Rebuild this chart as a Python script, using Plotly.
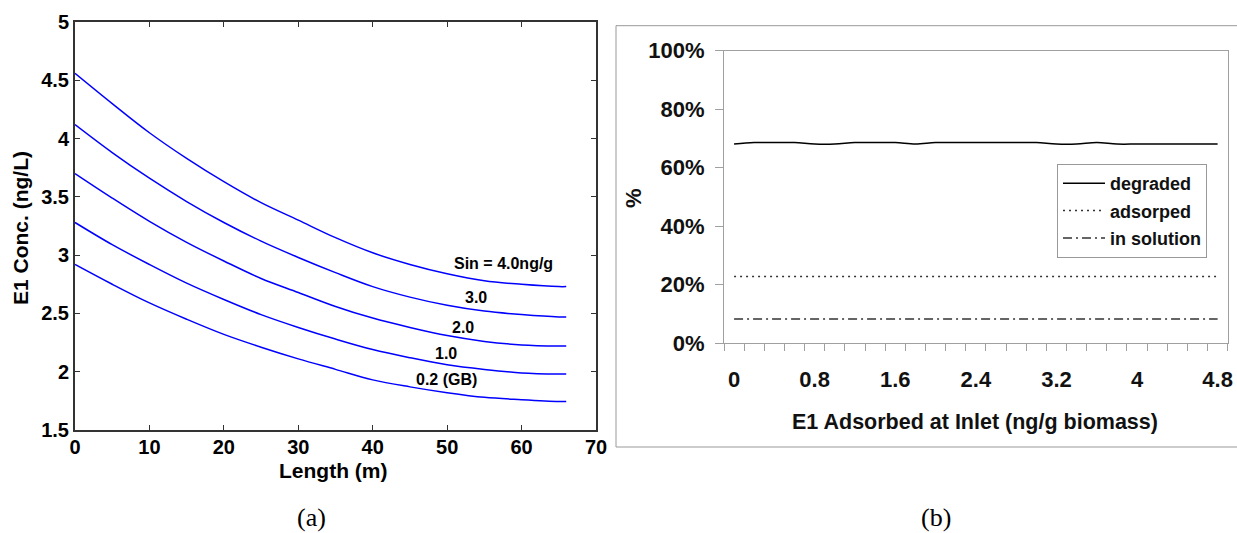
import plotly.graph_objects as go

W, H = 1237, 533

# ---------------- Panel (a) data ----------------
length_m = [0, 5, 10, 15, 20, 25, 30, 35, 40, 45, 50, 55, 60, 65, 66]
conc_s40 = [4.56, 4.30, 4.05, 3.83, 3.63, 3.45, 3.30, 3.15, 3.02, 2.92, 2.84, 2.78, 2.75, 2.73, 2.73]
conc_s30 = [4.12, 3.88, 3.66, 3.46, 3.28, 3.12, 2.98, 2.85, 2.73, 2.64, 2.57, 2.52, 2.49, 2.47, 2.47]
conc_s20 = [3.70, 3.49, 3.29, 3.11, 2.95, 2.80, 2.68, 2.56, 2.46, 2.38, 2.31, 2.26, 2.23, 2.22, 2.22]
conc_s10 = [3.28, 3.09, 2.92, 2.76, 2.62, 2.49, 2.38, 2.28, 2.19, 2.12, 2.06, 2.02, 1.99, 1.98, 1.98]
conc_s02 = [2.92, 2.75, 2.59, 2.45, 2.32, 2.21, 2.11, 2.02, 1.93, 1.87, 1.82, 1.78, 1.76, 1.745, 1.745]
curve_labels = ["Sin = 4.0ng/g", "3.0", "2.0", "1.0", "0.2 (GB)"]
label_x = [57.6, 53.9, 52.1, 49.9, 49.9]
label_y = [2.93, 2.64, 2.38, 2.155, 1.93]

# ---------------- Panel (b) data ----------------
adsorbed_inlet = [0, 0.2, 0.4, 0.6, 0.8, 1.0, 1.2, 1.4, 1.6, 1.8, 2.0, 2.2, 2.4,
                  2.6, 2.8, 3.0, 3.2, 3.4, 3.6, 3.8, 4.0, 4.2, 4.4, 4.6, 4.8]
degraded = [68.1, 68.6, 68.6, 68.6, 68.1, 68.1, 68.6, 68.6, 68.6, 68.1, 68.6, 68.6, 68.6,
            68.6, 68.6, 68.6, 68.1, 68.1, 68.6, 68.1, 68.1, 68.1, 68.1, 68.1, 68.1]
adsorped = [22.8] * 25
in_solution = [8.3] * 25
xb_tickvals = [0, 0.8, 1.6, 2.4, 3.2, 4.0, 4.8]
xb_ticktext = ["0", "0.8", "1.6", "2.4", "3.2", "4", "4.8"]
yb_tickvals = [0, 20, 40, 60, 80, 100]
yb_ticktext = ["0%", "20%", "40%", "60%", "80%", "100%"]


def px(x):
    return x / W


def py(y):
    return 1 - y / H


SANS = "Liberation Sans, Arial, sans-serif"
SERIF = "Liberation Serif, Times New Roman, serif"

fig = go.Figure()

for ys in [conc_s40, conc_s30, conc_s20, conc_s10, conc_s02]:
    fig.add_trace(go.Scatter(x=length_m, y=ys, mode="lines",
                             line=dict(color="#0000ff", width=1.5, shape="spline", smoothing=1),
                             showlegend=False, xaxis="x", yaxis="y"))

fig.add_trace(go.Scatter(x=adsorbed_inlet, y=degraded, mode="lines", name="degraded",
                         line=dict(color="#000000", width=1.5, shape="spline", smoothing=1),
                         xaxis="x2", yaxis="y2", legendgroup="a"))
fig.add_trace(go.Scatter(x=adsorbed_inlet, y=adsorped, mode="lines", name="adsorped",
                         line=dict(color="#333333", width=1.5, dash="2px,4px"),
                         xaxis="x2", yaxis="y2", legendgroup="b"))
fig.add_trace(go.Scatter(x=adsorbed_inlet, y=in_solution, mode="lines", name="in solution",
                         line=dict(color="#333333", width=1.5, dash="9px,4px,2px,4px"),
                         xaxis="x2", yaxis="y2", legendgroup="c"))

annotations = []
for t, lx, ly in zip(curve_labels, label_x, label_y):
    annotations.append(dict(x=lx, y=ly, xref="x", yref="y", text=t, showarrow=False,
                            xanchor="center", yanchor="middle",
                            font=dict(family=SANS, size=16, color="#000", weight="bold")))


def paper_text(x, y, text, size, family=SANS, angle=0, bold=True, color="#000"):
    f = dict(family=family, size=size, color=color)
    if bold:
        f["weight"] = "bold"
    return dict(x=px(x), y=py(y), xref="paper", yref="paper", text=text, textangle=angle,
                xanchor="center", yanchor="middle", showarrow=False, font=f)


annotations += [
    paper_text(20, 228, "E1 Conc. (ng/L)", 21, angle=-90),
    paper_text(333, 470, "Length (m)", 21),
    paper_text(633, 198, "%", 22, angle=-90, color="#111"),
    paper_text(975, 422, "E1 Adsorbed at Inlet (ng/g biomass)", 21.5, color="#111"),
    paper_text(311, 517, "(a)", 26, family=SERIF, bold=False),
    paper_text(936, 517, "(b)", 26, family=SERIF, bold=False),
]

shapes = [
    dict(type="line", xref="paper", yref="paper", x0=px(616), x1=px(616), y0=py(25.7), y1=py(447), line=dict(color="#999999", width=1)),
    dict(type="line", xref="paper", yref="paper", x0=px(616), x1=1.01, y0=py(25.7), y1=py(25.7), line=dict(color="#999999", width=1)),
    dict(type="line", xref="paper", yref="paper", x0=px(616), x1=1.01, y0=py(447), y1=py(447), line=dict(color="#999999", width=1)),
]

fig.update_layout(
    width=W, height=H,
    margin=dict(l=0, r=0, t=0, b=0, autoexpand=False),
    paper_bgcolor="white", plot_bgcolor="white",
    showlegend=True,
    legend=dict(x=px(1057), y=py(164), xanchor="left", yanchor="top",
                bordercolor="#999999", borderwidth=1, bgcolor="white",
                font=dict(family=SANS, size=18, color="#111", weight="bold"),
                tracegroupgap=1, traceorder="grouped", itemwidth=42),
    xaxis=dict(domain=[px(75), px(596)], range=[0, 70], tickvals=list(range(0, 71, 10)),
               ticks="inside", ticklen=5, tickcolor="#333333", mirror="ticks", showline=True,
               linecolor="#333333", linewidth=2, showgrid=False, zeroline=False, automargin=False,
               ticklabelstandoff=-2,
               tickfont=dict(family=SANS, size=20, color="#000", weight="bold"), anchor="y"),
    yaxis=dict(domain=[py(430), py(22)], range=[1.5, 5], tickvals=[1.5, 2, 2.5, 3, 3.5, 4, 4.5, 5],
               ticktext=["1.5", "2", "2.5", "3", "3.5", "4", "4.5", "5"],
               ticks="inside", ticklen=5, tickcolor="#333333", mirror="ticks", showline=True,
               linecolor="#333333", linewidth=2, showgrid=False, zeroline=False, automargin=False,
               tickfont=dict(family=SANS, size=20, color="#000", weight="bold"), anchor="x"),
    xaxis2=dict(domain=[px(724), px(1227.7)], range=[-0.1, 4.9], tickvals=xb_tickvals, ticktext=xb_ticktext,
                ticks="", showline=True, mirror=True, linecolor="#a0a0a0", linewidth=1,
                minor=dict(tick0=-0.1, dtick=0.2, ticks="outside", ticklen=7, tickcolor="#a0a0a0", showgrid=False),
                ticklabelstandoff=16, showgrid=False, zeroline=False, automargin=False,
                tickfont=dict(family=SANS, size=22, color="#111", weight="bold"), anchor="y2"),
    yaxis2=dict(domain=[py(343.3), py(50.7)], range=[0, 100], tickvals=yb_tickvals, ticktext=yb_ticktext,
                ticks="outside", ticklen=8, tickcolor="#a0a0a0",
                showline=True, mirror=True, linecolor="#a0a0a0", linewidth=1,
                showgrid=False, zeroline=False, ticklabelstandoff=6, automargin=False,
                tickfont=dict(family=SANS, size=22, color="#111", weight="bold"), anchor="x2"),
    annotations=annotations,
    shapes=shapes,
)

fig.write_html("out.html")
